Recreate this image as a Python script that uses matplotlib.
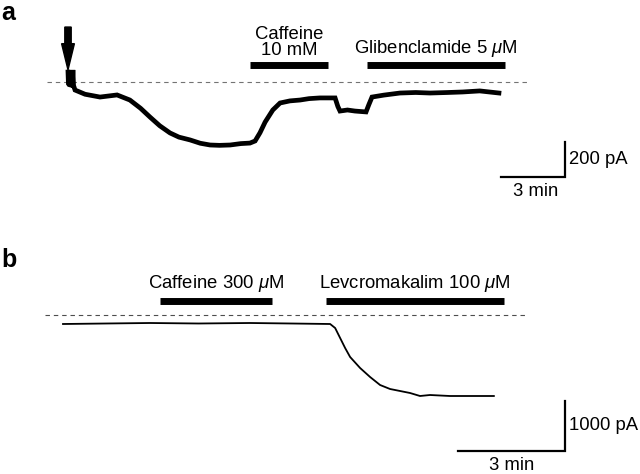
import matplotlib
matplotlib.use("Agg")
import matplotlib.pyplot as plt

plt.rcParams['font.family'] = ['Liberation Sans', 'DejaVu Sans']
plt.rcParams['mathtext.fontset'] = 'custom'
plt.rcParams['mathtext.rm'] = 'Liberation Sans'
plt.rcParams['mathtext.it'] = 'Liberation Sans:italic'

# -----------------------------
# Data (time in min, current in pA, 0 = dashed baseline)
# -----------------------------
t_a = [0.0, 0.02, 0.05, 0.2, 0.23, 0.26, 0.33, 0.8, 1.5, 2.3, 2.9, 3.4, 3.84, 4.3, 4.78,
       5.2, 5.72, 6.2, 6.66, 7.1, 7.6, 8.1, 8.53, 8.77, 9.0, 9.24, 9.6, 9.94, 10.4,
       10.88, 11.3, 11.81, 12.52, 12.65, 12.75, 13.1, 13.45, 13.97, 14.1, 14.25, 14.8,
       15.56, 16.3, 16.97, 17.8, 18.5, 19.3, 20.2]
i_a = [57, -10, -15, -20, 69, -20, -46, -70, -86, -74, -103, -150, -200, -250, -291,
       -315, -331, -350, -360, -362, -360, -352, -349, -337, -290, -229, -160, -120, -108,
       -103, -95, -91, -91, -140, -166, -160, -166, -171, -130, -86, -75,
       -63, -60, -63, -60, -57, -51, -63]

t_b = [0.0, 1.2, 2.44, 3.8, 5.24, 6.4, 7.49, 7.63, 7.77, 7.91, 8.05, 8.33, 8.61, 8.89,
       9.17, 9.45, 9.73, 10.01, 10.29, 10.85, 11.41, 12.08]
i_b = [-180, -170, -160, -170, -160, -170, -180, -260, -460, -660, -840, -1060, -1240, -1400,
       -1480, -1520, -1560, -1620, -1600, -1620, -1620, -1620]

drug_a = ['Caffeine\n10 mM', 'Glibenclamide 5 $\\mu$M']
start_a = [8.53, 14.0]
end_a = [12.19, 20.5]

drug_b = ['Caffeine 300 $\\mu$M', 'Levcromakalim 100 $\\mu$M']
start_b = [2.72, 7.37]
end_b = [5.86, 12.36]

scale_t = 3          # min
scale_i_a = 200      # pA
scale_i_b = 1000     # pA

# -----------------------------
# Layout (pixel mapping of each panel)
# -----------------------------
W, H = 640, 474
FS = 13.3
fig = plt.figure(figsize=(W / 100, H / 100), dpi=100)
fig.patch.set_facecolor('white')

def make_axes(top_px, bot_px, x0_px, y0_px, px_per_min, px_per_pA):
    ax = fig.add_axes([0, 1 - bot_px / H, 1, (bot_px - top_px) / H])
    ax.set_xlim(-x0_px / px_per_min, (W - x0_px) / px_per_min)
    ax.set_ylim(-(bot_px - y0_px) / px_per_pA, (y0_px - top_px) / px_per_pA)
    ax.axis('off')
    return ax

ax_a = make_axes(0, 230, 68, 82, 64 / 3, 35 / 200)
ax_b = make_axes(230, 474, 63, 315, 107 / 3, 50 / 1000)

# -----------------------------
# Panel a
# -----------------------------
ax_a.plot([-0.98, 21.5], [0, 0], ls=(0, (4, 3.5)), lw=0.8, color='0.45')
ax_a.plot(t_a, i_a, color='black', lw=3.4, solid_joinstyle='miter')
for name, s, e in zip(drug_a, start_a, end_a):
    ax_a.plot([s, e], [97, 97], color='black', lw=5, solid_capstyle='butt')
    ax_a.text((s + e) / 2, 129, name, ha='center', va='bottom', fontsize=FS,
              linespacing=0.95)
ax_a.arrow(0, 314, 0, -245, width=0.3, head_width=0.6, head_length=150,
           length_includes_head=True, color='black')
# scale bar
ax_a.plot([23.3 - scale_t, 23.3, 23.3], [-543, -543, -543 + scale_i_a],
          color='black', lw=1.6, solid_joinstyle='miter')
ax_a.text(23.48, -543 + scale_i_a / 2, f'{scale_i_a} pA', ha='left', va='center', fontsize=FS)
ax_a.text(21.9, -628, f'{scale_t} min', ha='center', va='center', fontsize=FS)

# -----------------------------
# Panel b
# -----------------------------
ax_b.plot([-0.5, 12.96], [0, 0], ls=(0, (4, 3.5)), lw=0.8, color='0.3')
ax_b.plot(t_b, i_b, color='black', lw=1.3)
for name, s, e in zip(drug_b, start_b, end_b):
    ax_b.plot([s, e], [280, 280], color='black', lw=5, solid_capstyle='butt')
    ax_b.text((s + e) / 2, 430, name, ha='center', va='bottom', fontsize=FS)
# scale bar
ax_b.plot([14.07 - scale_t, 14.07, 14.07], [-2720, -2720, -2720 + scale_i_b],
          color='black', lw=1.6, solid_joinstyle='miter')
ax_b.text(14.2, -2720 + scale_i_b / 2, f'{scale_i_b} pA', ha='left', va='center', fontsize=FS)
ax_b.text(12.59, -3000, f'{scale_t} min', ha='center', va='center', fontsize=FS)

# panel letters
fig.text(8 / W, 1 - 13 / H, 'a', fontsize=18, fontweight='bold', ha='center', va='center')
fig.text(9 / W, 1 - 260 / H, 'b', fontsize=18, fontweight='bold', ha='center', va='center')

fig.savefig('out.png', dpi=100)
